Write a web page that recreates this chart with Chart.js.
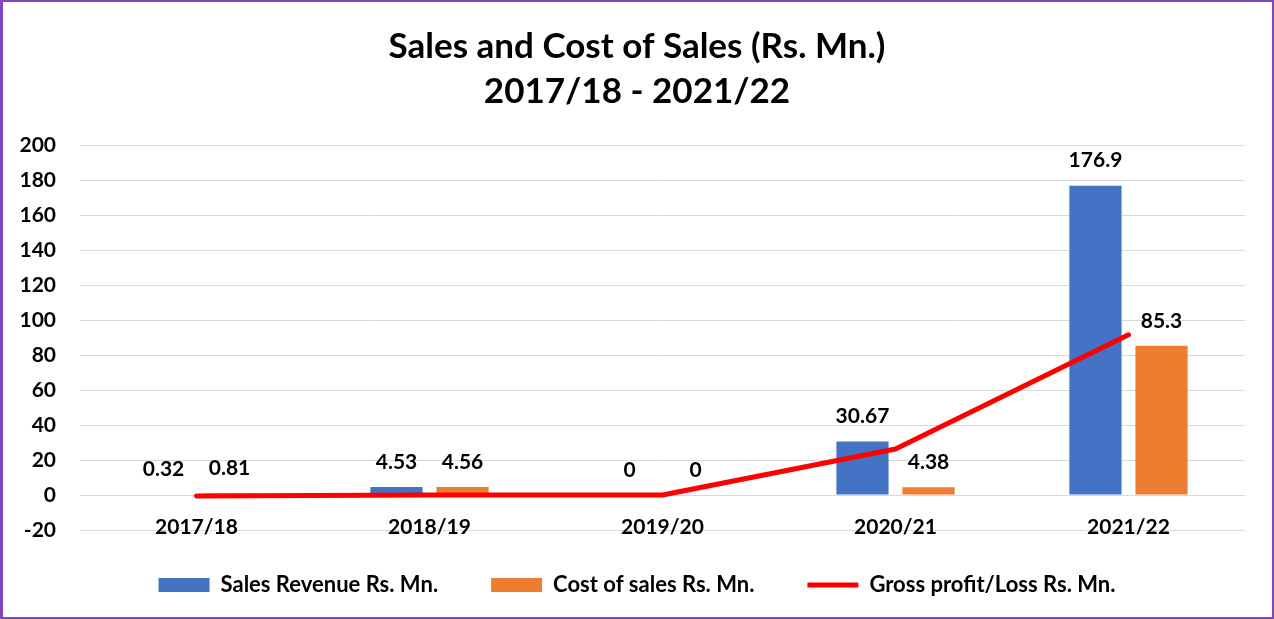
<!DOCTYPE html>
<html>
<head>
<meta charset="utf-8">
<script src="https://cdn.jsdelivr.net/npm/chart.js@4"></script>
<style>
  body { margin: 0; background: #fff; }
  .wrap { position: relative; width: 1274px; height: 619px; }
  .frame { position: absolute; left: 0; top: 0; width: 1274px; height: 619px; box-sizing: border-box;
           border: 2px solid #8046C0; border-left-width: 3px; pointer-events: none; }
</style>
</head>
<body>
<div class="wrap">
  <canvas id="salesChart" width="1274" height="619"></canvas>
  <div class="frame"></div>
</div>
<script>
// Data
const years = ['2017/18', '2018/19', '2019/20', '2020/21', '2021/22'];
const salesRevenue = [0.32, 4.53, 0, 30.67, 176.9];
const costOfSales = [0.81, 4.56, 0, 4.38, 85.3];
const grossProfit = [-0.49, -0.03, 0, 26.29, 91.6];
const yTicks = [-20, 0, 20, 40, 60, 80, 100, 120, 140, 160, 180, 200];

const FONT = 'Lato, "Open Sans", sans-serif';

// Value labels above the bars + category labels sitting on the -20 line (Excel "low" labels)
const extraLabels = {
  id: 'extraLabels',
  afterLayout(chart) {
    // pull the legend a little closer to the plot
    chart.legend.top -= 9;
    chart.legend.bottom -= 9;
  },
  afterDatasetsDraw(chart) {
    const ctx = chart.ctx;
    const xs = chart.scales.x, ys = chart.scales.y;
    ctx.save();
    ctx.font = 'bold 21px ' + FONT;
    ctx.fillStyle = '#000';
    ctx.textAlign = 'center';
    ctx.textBaseline = 'middle';
    chart.data.datasets.forEach((ds, i) => {
      if (ds.type !== 'bar') return;
      chart.getDatasetMeta(i).data.forEach((bar, j) => {
        ctx.fillText(String(ds.data[j]), bar.x, bar.y - 25);
      });
    });
    const yLow = ys.getPixelForValue(-20) - 3;
    years.forEach((lab, i) => {
      ctx.fillText(lab, xs.getPixelForValue(i), yLow);
    });
    ctx.restore();
  }
};

new Chart(document.getElementById('salesChart'), {
  data: {
    labels: years,
    datasets: [
      {
        type: 'bar',
        label: 'Sales Revenue Rs. Mn.',
        data: salesRevenue,
        backgroundColor: '#4472C4',
        pointStyle: 'rect',
        order: 1,
        barPercentage: 0.79,
        categoryPercentage: 0.567
      },
      {
        type: 'bar',
        label: 'Cost of sales Rs. Mn.',
        data: costOfSales,
        backgroundColor: '#ED7D31',
        pointStyle: 'rect',
        order: 1,
        barPercentage: 0.79,
        categoryPercentage: 0.567
      },
      {
        type: 'line',
        label: 'Gross profit/Loss Rs. Mn.',
        data: grossProfit,
        borderColor: '#FF0000',
        backgroundColor: '#FF0000',
        borderWidth: 5,
        borderCapStyle: 'round',
        borderJoinStyle: 'round',
        pointRadius: 0,
        pointStyle: 'line',
        tension: 0,
        order: 0
      }
    ]
  },
  options: {
    responsive: false,
    animation: false,
    layout: { padding: { left: 2, right: 2, top: 4, bottom: 4 } },
    plugins: {
      title: {
        display: true,
        text: ['Sales and Cost of Sales (Rs. Mn.)', '2017/18 - 2021/22'],
        color: '#000',
        font: { family: FONT, size: 35, weight: 'bold', lineHeight: 1.29 },
        padding: { top: 20, bottom: 31 }
      },
      legend: {
        position: 'bottom',
        labels: {
          usePointStyle: true,
          pointStyleWidth: 51,
          boxHeight: 14,
          padding: 53,
          color: '#000',
          font: { family: FONT, size: 22, weight: 'bold' },
          sort: (a, b) => a.datasetIndex - b.datasetIndex
        }
      },
      tooltip: { enabled: false }
    },
    scales: {
      x: {
        grid: { display: false, drawTicks: false },
        border: { display: false },
        ticks: { display: false },
        afterFit: s => { s.height = 0; }
      },
      y: {
        min: -20,
        max: 200,
        afterBuildTicks: s => { s.ticks = yTicks.map(v => ({ value: v })); },
        grid: { color: '#D9D9D9', lineWidth: 1, drawTicks: false },
        border: { display: false },
        ticks: {
          color: '#000',
          padding: 24,
          font: { family: FONT, size: 21, weight: 'bold' }
        },
        afterFit: s => { s.width = 78; }
      },
      // empty right-hand gutter so the title centres on the whole canvas
      yRight: {
        position: 'right',
        grid: { display: false, drawTicks: false },
        border: { display: false },
        ticks: { display: false },
        afterFit: s => { s.width = 27; }
      }
    }
  },
  plugins: [extraLabels]
});
</script>
</body>
</html>
